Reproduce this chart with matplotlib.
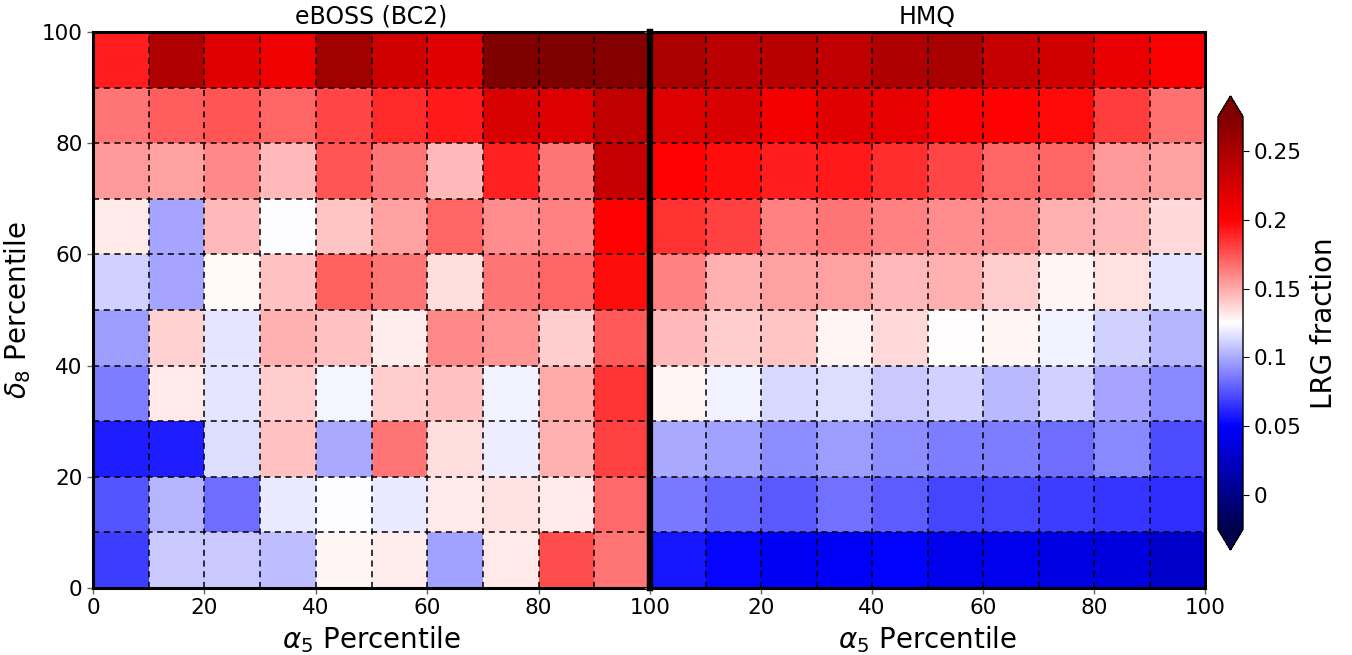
import numpy as np
import matplotlib
matplotlib.use("Agg")
import matplotlib.pyplot as plt
from matplotlib.colors import Normalize

titles = ["eBOSS (BC2)", "HMQ"]
xlabel = r"$\alpha_5$ Percentile"
ylabel = r"$\delta_8$ Percentile"
cbar_label = "LRG fraction"
edges = np.arange(0, 101, 10)

# rows: delta_8 bins from 0-10 (bottom) to 90-100 (top); columns: alpha_5 bins 0-10 .. 90-100
eboss = np.array([
    [0.068, 0.109, 0.109, 0.106, 0.128, 0.130, 0.098, 0.132, 0.177, 0.165],
    [0.075, 0.103, 0.082, 0.118, 0.124, 0.118, 0.132, 0.134, 0.132, 0.169],
    [0.059, 0.059, 0.115, 0.143, 0.100, 0.165, 0.135, 0.120, 0.148, 0.181],
    [0.0875, 0.132, 0.117, 0.140, 0.122, 0.140, 0.143, 0.1205, 0.150, 0.184],
    [0.096, 0.138, 0.117, 0.148, 0.143, 0.130, 0.159, 0.156, 0.140, 0.174],
    [0.111, 0.099, 0.127, 0.143, 0.171, 0.165, 0.135, 0.165, 0.170, 0.196],
    [0.132, 0.099, 0.146, 0.124, 0.142, 0.153, 0.170, 0.158, 0.1625, 0.200],
    [0.155, 0.153, 0.160, 0.146, 0.175, 0.165, 0.146, 0.190, 0.165, 0.233],
    [0.165, 0.172, 0.175, 0.170, 0.179, 0.188, 0.1925, 0.2225, 0.220, 0.2375],
    [0.191, 0.246, 0.218, 0.209, 0.256, 0.227, 0.218, 0.280, 0.280, 0.272],
])

hmq = np.array([
    [0.056, 0.052, 0.0457, 0.047, 0.050, 0.0425, 0.044, 0.039, 0.036, 0.0286],
    [0.086, 0.080, 0.076, 0.083, 0.078, 0.071, 0.071, 0.068, 0.066, 0.064],
    [0.100, 0.097, 0.092, 0.0965, 0.092, 0.0875, 0.0875, 0.082, 0.090, 0.073],
    [0.128, 0.121, 0.114, 0.115, 0.109, 0.111, 0.104, 0.111, 0.099, 0.090],
    [0.146, 0.140, 0.142, 0.128, 0.136, 0.126, 0.128, 0.121, 0.111, 0.103],
    [0.1625, 0.148, 0.153, 0.153, 0.145, 0.148, 0.140, 0.128, 0.134, 0.117],
    [0.185, 0.181, 0.1625, 0.166, 0.1625, 0.158, 0.158, 0.148, 0.145, 0.136],
    [0.200, 0.196, 0.191, 0.192, 0.186, 0.179, 0.170, 0.170, 0.155, 0.152],
    [0.220, 0.2225, 0.206, 0.218, 0.2135, 0.203, 0.200, 0.197, 0.182, 0.167],
    [0.250, 0.240, 0.242, 0.2375, 0.248, 0.251, 0.233, 0.227, 0.212, 0.203],
])

cbar_ticks = [0, 0.05, 0.1, 0.15, 0.2, 0.25]
cbar_ticklabels = ["0", "0.05", "0.1", "0.15", "0.2", "0.25"]
vmin, vmax = -0.025, 0.275

W, H = 1352, 655
fig = plt.figure(figsize=(W / 100, H / 100), dpi=100)
norm = Normalize(vmin=vmin, vmax=vmax)
cmap = plt.get_cmap("seismic")

ax1 = fig.add_axes([93 / W, 1 - 588 / H, (650 - 93) / W, (588 - 32) / H])
ax2 = fig.add_axes([650 / W, 1 - 588 / H, (1205 - 650) / W, (588 - 32) / H])

for ax, data, title in zip([ax1, ax2], [eboss, hmq], titles):
    mesh = ax.pcolormesh(edges, edges, data, cmap=cmap, norm=norm)
    for e in edges[1:-1]:
        ax.axvline(e, color="black", ls="--", lw=1.1, dashes=(4, 3))
        ax.axhline(e, color="black", ls="--", lw=1.1, dashes=(4, 3))
    ax.set_xlim(0, 100)
    ax.set_ylim(0, 100)
    ax.set_title(title, fontsize=17, pad=6)
    ax.set_xlabel(xlabel, fontsize=20, labelpad=4)
    for sp in ax.spines.values():
        sp.set_linewidth(2.2)
    ax.tick_params(labelsize=15.5, length=4, width=1, color="0.4")

ax1.spines["right"].set_linewidth(4.5)
ax2.spines["left"].set_linewidth(4.5)
ax1.set_xticks([0, 20, 40, 60, 80, 100])
ax1.set_yticks([0, 20, 40, 60, 80, 100])
ax2.set_xticks([20, 40, 60, 80, 100])
ax2.set_yticks([0, 20, 40, 60, 80, 100])
ax2.tick_params(labelleft=False)
ax1.set_ylabel(ylabel, fontsize=20, labelpad=6)

cax = fig.add_axes([1218 / W, 1 - 550 / H, 25 / W, (550 - 96) / H])
cb = fig.colorbar(mesh, cax=cax, extend="both", ticks=cbar_ticks, extendfrac=0.05)
cb.ax.set_yticklabels(cbar_ticklabels)
cb.ax.tick_params(labelsize=15.5, length=4)
cb.set_label(cbar_label, fontsize=20, labelpad=6)
cb.outline.set_linewidth(1)

fig.savefig("out.png", dpi=100)
